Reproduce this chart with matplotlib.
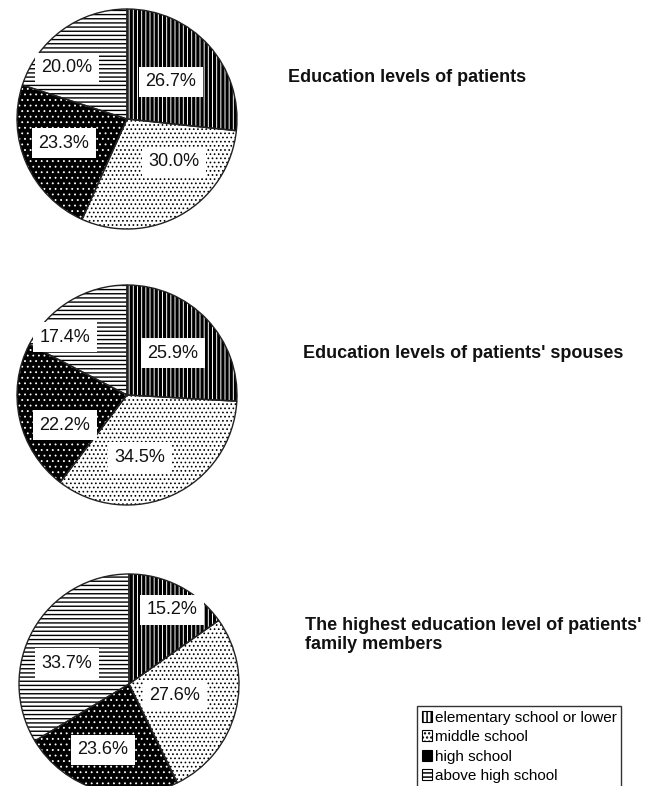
import matplotlib
matplotlib.use("Agg")
import matplotlib.pyplot as plt
from matplotlib.patches import Patch

plt.rcParams['font.family'] = ['Liberation Sans', 'DejaVu Sans']
plt.rcParams['hatch.linewidth'] = 1.1

categories = ["elementary school or lower", "middle school", "high school", "above high school"]
patients = [26.7, 30.0, 23.3, 20.0]
spouses = [25.9, 34.5, 22.2, 17.4]
family = [15.2, 27.6, 23.6, 33.7]
titles = ["Education levels of patients",
          "Education levels of patients' spouses",
          "The highest education level of patients'\nfamily members"]

W, H = 650, 786
fig = plt.figure(figsize=(W / 100, H / 100), dpi=100)
ax = fig.add_axes([0, 0, 1, 1])

# layout (pixel coordinates, y from top)
centers = [(127, 119), (127, 395), (129, 684)]
radius = 110
label_pos = [
    [(171, 82), (174, 162), (64, 143), (67, 68)],
    [(173, 353), (140, 457), (65, 425), (65, 337)],
    [(172, 610), (175, 695), (103, 750), (67, 663)],
]
title_pos = [(288, 78), (303, 353), (305, 635)]

faces = ['white', 'white', 'black', 'white']
hatch_cols = ['black', 'black', 'white', 'black']
hatches = ['||||', '....', '...', '----']
hatch_lws = [2.3, 0.7, 0.6, 1.0]


def style(p, fc, hc, h, hlw):
    p.set_facecolor(fc)
    p.set_edgecolor(hc)
    p.set_hatch(h)
    if hasattr(p, 'set_hatch_linewidth'):
        p.set_hatch_linewidth(hlw)
    else:
        p._hatch_linewidth = hlw


for vals, (cx, cy), lps, title, (tx, ty) in zip(
        [patients, spouses, family], centers, label_pos, titles, title_pos):
    c = (cx, H - cy)
    wedges, _ = ax.pie(vals, center=c, radius=radius, startangle=90,
                       counterclock=False, normalize=True,
                       wedgeprops=dict(linewidth=0))
    for w, fc, hc, h, hlw in zip(wedges, faces, hatch_cols, hatches, hatch_lws):
        style(w, fc, hc, h, hlw)
        w.set_linewidth(0)
    # outline
    ax.pie(vals, center=c, radius=radius, startangle=90, counterclock=False,
           normalize=True,
           wedgeprops=dict(fill=False, edgecolor='#222222', linewidth=1.0))
    for v, (lx, ly) in zip(vals, lps):
        ax.text(lx, H - ly, f"{v:.1f}%", ha='center', va='center', fontsize=13,
                color='#111111',
                bbox=dict(boxstyle='square,pad=0.35', facecolor='white',
                          edgecolor='none'))
    ax.text(tx, H - ty, title, ha='left', va='center', fontsize=13,
            fontweight='bold', color='#111111', linespacing=1.15)

ax.set_xlim(0, W)
ax.set_ylim(0, H)
ax.set_aspect('equal')
ax.axis('off')

handles = []
for fc, hc, h, hlw in zip(faces, hatch_cols, hatches, hatch_lws):
    p = Patch(facecolor=fc, edgecolor='black', hatch=h, linewidth=0.8)
    if hasattr(p, 'set_hatch_linewidth'):
        p.set_hatch_linewidth(min(hlw, 1.0))
    handles.append(p)
handles[2] = Patch(facecolor='black', edgecolor='black', linewidth=0.8)
leg = fig.legend(handles, categories, loc='upper left',
                 bbox_to_anchor=(417 / W, 1 - 706 / H),
                 fontsize=11, frameon=True, fancybox=False,
                 handlelength=0.7, handleheight=0.7, handletextpad=0.15,
                 labelspacing=0.36, borderpad=0.3, borderaxespad=0)
leg.get_frame().set_edgecolor('black')
leg.get_frame().set_linewidth(1.0)

fig.savefig("out.png", dpi=100, facecolor='white')
